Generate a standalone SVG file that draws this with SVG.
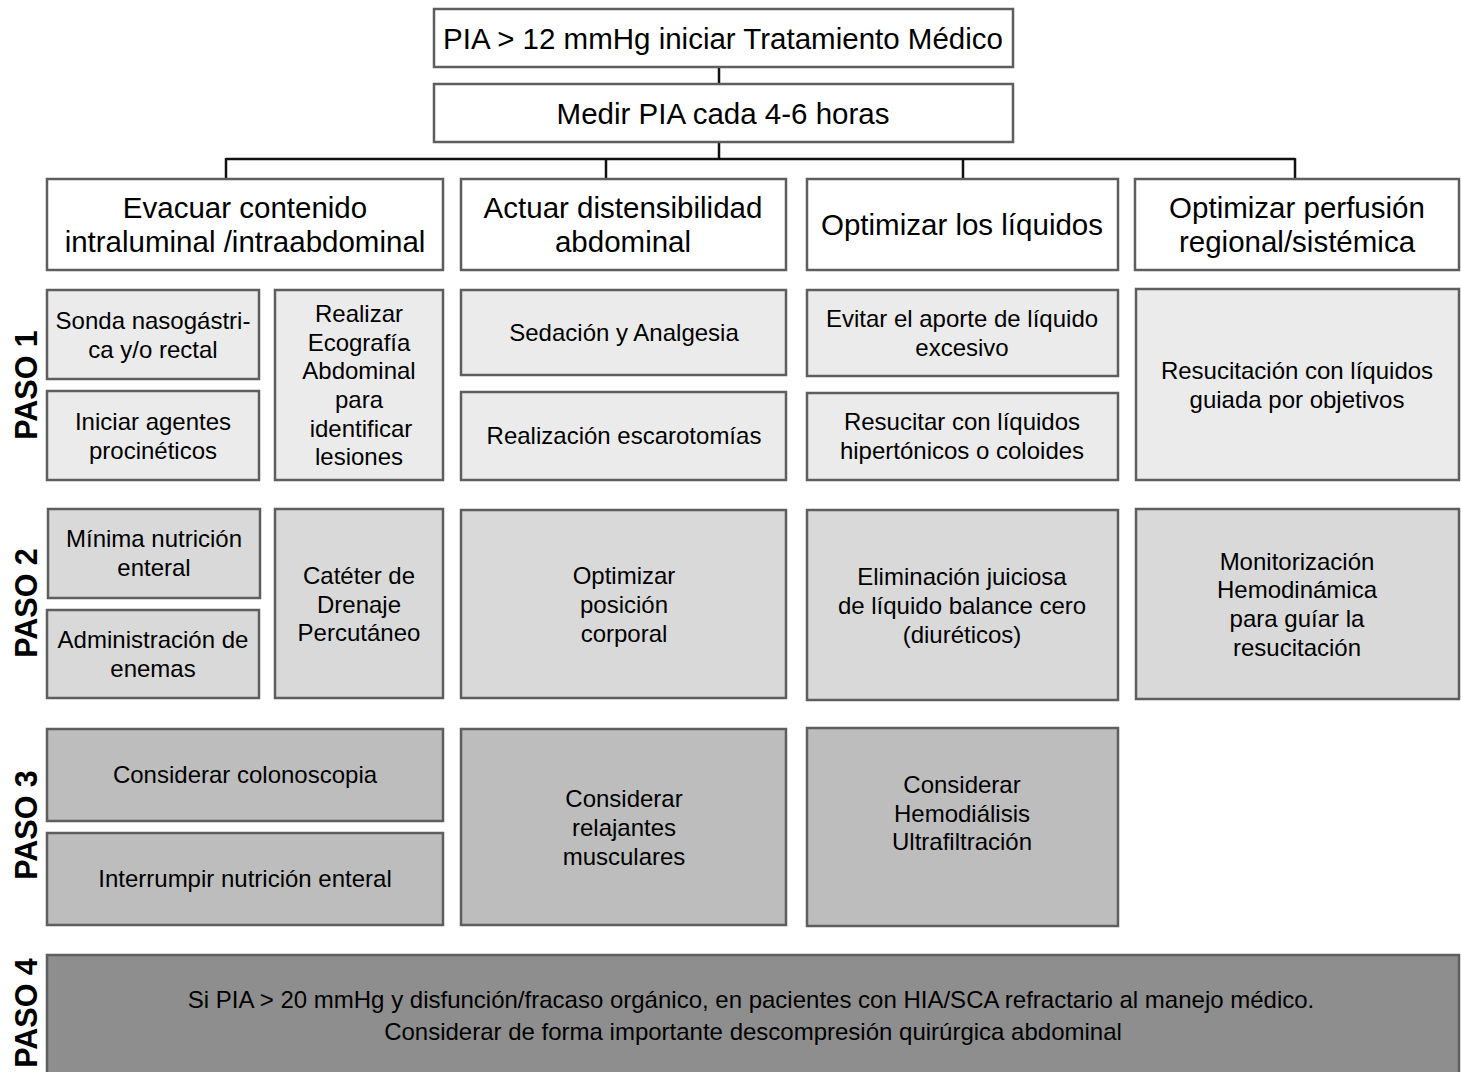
<svg xmlns="http://www.w3.org/2000/svg" width="1461" height="1072" viewBox="0 0 1461 1072">
<style>
text{font-family:"Liberation Sans",Arial,sans-serif;fill:#000;text-anchor:middle}
.b{stroke:#5e5e5e;stroke-width:2.5}
.w{fill:#fff}
.s1{fill:#ebebeb}
.s2{fill:#d9d9d9}
.s3{fill:#bdbdbd}
.s4{fill:#8e8e8e}
.h{font-size:29.5px}
.t{font-size:24px}
.p4{font-size:24px}
.lab{font-size:30.5px;font-weight:bold}
.c{stroke:#111;stroke-width:2.5;fill:none}
</style>
<rect width="1461" height="1072" fill="#fff"/>
<g id="connectors">
<path class="c" d="M719 67V84M719 142V159M226 159H1295M226 158V179M606 158V179M963 158V179M1295 158V179"/>
</g>
<g id="top"><rect class="b w" x="434" y="9" width="579" height="58"/><text class="h" x="723" y="49">PIA &gt; 12 mmHg iniciar Tratamiento Médico</text></g>
<g id="medir"><rect class="b w" x="434" y="84" width="579" height="58"/><text class="h" x="723" y="124">Medir PIA cada 4-6 horas</text></g>
<g id="h1"><rect class="b w" x="47" y="179" width="396" height="91"/><text class="h" x="245" y="218">Evacuar contenido</text><text class="h" x="245" y="252">intraluminal /intraabdominal</text></g>
<g id="h2"><rect class="b w" x="461" y="179" width="325" height="91"/><text class="h" x="623" y="218">Actuar distensibilidad</text><text class="h" x="623" y="252">abdominal</text></g>
<g id="h3"><rect class="b w" x="807" y="179" width="311" height="91"/><text class="h" x="962" y="235">Optimizar los líquidos</text></g>
<g id="h4"><rect class="b w" x="1135" y="179" width="324" height="91"/><text class="h" x="1297" y="218">Optimizar perfusión</text><text class="h" x="1297" y="252">regional/sistémica</text></g>

<g id="lab1"><text class="lab" transform="translate(37 385) rotate(-90)">PASO 1</text></g>
<g id="lab2"><text class="lab" transform="translate(37 603) rotate(-90)">PASO 2</text></g>
<g id="lab3"><text class="lab" transform="translate(37 825) rotate(-90)">PASO 3</text></g>
<g id="lab4"><text class="lab" transform="translate(37 1013) rotate(-90)">PASO 4</text></g>

<g id="sonda"><rect class="b s1" x="47" y="290" width="212" height="89"/><text class="t" x="153" y="329">Sonda nasogástri-</text><text class="t" x="153" y="358">ca y/o rectal</text></g>
<g id="iniciar"><rect class="b s1" x="47" y="391" width="212" height="89"/><text class="t" x="153" y="430">Iniciar agentes</text><text class="t" x="153" y="459">procinéticos</text></g>
<g id="eco"><rect class="b s1" x="275" y="290" width="168" height="190"/><text class="t" x="359" y="322">Realizar</text><text class="t" x="359" y="351">Ecografía</text><text class="t" x="359" y="379">Abdominal</text><text class="t" x="359" y="408">para</text><text class="t" x="361" y="437">identificar</text><text class="t" x="359" y="465">lesiones</text></g>
<g id="sedacion"><rect class="b s1" x="461" y="290" width="325" height="85"/><text class="t" x="624" y="341">Sedación y Analgesia</text></g>
<g id="escaro"><rect class="b s1" x="461" y="392" width="325" height="88"/><text class="t" x="624" y="444">Realización escarotomías</text></g>
<g id="evitar"><rect class="b s1" x="807" y="290" width="311" height="86"/><text class="t" x="962" y="327">Evitar el aporte de líquido</text><text class="t" x="962" y="356">excesivo</text></g>
<g id="resucitar"><rect class="b s1" x="807" y="393" width="311" height="87"/><text class="t" x="962" y="430">Resucitar con líquidos</text><text class="t" x="962" y="459">hipertónicos o coloides</text></g>
<g id="resucitacion"><rect class="b s1" x="1136" y="289" width="323" height="191"/><text class="t" x="1297" y="379">Resucitación con líquidos</text><text class="t" x="1297" y="408">guiada por objetivos</text></g>

<g id="minima"><rect class="b s2" x="48" y="509" width="212" height="89"/><text class="t" x="154" y="547">Mínima nutrición</text><text class="t" x="154" y="576">enteral</text></g>
<g id="enemas"><rect class="b s2" x="47" y="610" width="212" height="88"/><text class="t" x="153" y="648">Administración de</text><text class="t" x="153" y="677">enemas</text></g>
<g id="cateter"><rect class="b s2" x="275" y="509" width="168" height="189"/><text class="t" x="359" y="584">Catéter de</text><text class="t" x="359" y="613">Drenaje</text><text class="t" x="359" y="641">Percutáneo</text></g>
<g id="posicion"><rect class="b s2" x="461" y="510" width="325" height="188"/><text class="t" x="624" y="584">Optimizar</text><text class="t" x="624" y="613">posición</text><text class="t" x="624" y="642">corporal</text></g>
<g id="eliminacion"><rect class="b s2" x="807" y="510" width="311" height="190"/><text class="t" x="962" y="585">Eliminación juiciosa</text><text class="t" x="962" y="614">de líquido balance cero</text><text class="t" x="962" y="643">(diuréticos)</text></g>
<g id="monitor"><rect class="b s2" x="1136" y="509" width="323" height="190"/><text class="t" x="1297" y="570">Monitorización</text><text class="t" x="1297" y="598">Hemodinámica</text><text class="t" x="1297" y="627">para guíar la</text><text class="t" x="1297" y="656">resucitación</text></g>

<g id="colono"><rect class="b s3" x="47" y="729" width="396" height="92"/><text class="t" x="245" y="783">Considerar colonoscopia</text></g>
<g id="interrumpir"><rect class="b s3" x="47" y="833" width="396" height="92"/><text class="t" x="245" y="887">Interrumpir nutrición enteral</text></g>
<g id="relajantes"><rect class="b s3" x="461" y="729" width="325" height="196"/><text class="t" x="624" y="807">Considerar</text><text class="t" x="624" y="836">relajantes</text><text class="t" x="624" y="865">musculares</text></g>
<g id="hemodialisis"><rect class="b s3" x="807" y="728" width="311" height="198"/><text class="t" x="962" y="793">Considerar</text><text class="t" x="962" y="822">Hemodiálisis</text><text class="t" x="962" y="850">Ultrafiltración</text></g>

<g id="paso4"><rect class="b s4" x="47" y="955" width="1412" height="130"/><text class="p4" x="751" y="1008">Si PIA &gt; 20 mmHg y disfunción/fracaso orgánico, en pacientes con HIA/SCA refractario al manejo médico.</text><text class="p4" x="753" y="1040">Considerar de forma importante descompresión quirúrgica abdominal</text></g>
</svg>
